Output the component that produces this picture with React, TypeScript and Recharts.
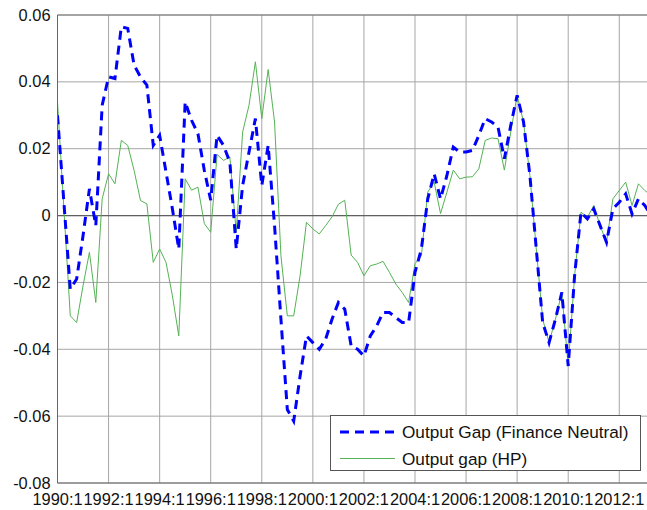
import React from 'react';
import { LineChart, Line, XAxis, YAxis, CartesianGrid, ReferenceLine } from 'recharts';

const tickLabels = ['1990:1', '1992:1', '1994:1', '1996:1', '1998:1', '2000:1', '2002:1', '2004:1', '2006:1', '2008:1', '2010:1', '2012:1'];
const xTicks = [0, 8, 16, 24, 32, 40, 48, 56, 64, 72, 80, 88];
const yTicks = [-0.08, -0.06, -0.04, -0.02, 0, 0.02, 0.04, 0.06];

// Output Gap (Finance Neutral), quarterly from 1990:1
const financeNeutral = [
  0.030, 0.004, -0.022, -0.019, -0.006, 0.008, -0.003, 0.033, 0.0415, 0.041,
  0.0565, 0.056, 0.045, 0.0415, 0.039, 0.021, 0.024, 0.013, 0.002, -0.010,
  0.034, 0.0285, 0.0245, 0.0135, 0.0046, 0.024, 0.021, 0.016, -0.010, 0.009,
  0.019, 0.029, 0.009, 0.021, -0.003, -0.031, -0.058, -0.0615, -0.048, -0.036,
  -0.038, -0.040, -0.037, -0.031, -0.026, -0.028, -0.039, -0.040, -0.042, -0.036,
  -0.033, -0.029, -0.029, -0.0305, -0.032, -0.032, -0.017, -0.010, 0.005, 0.0125,
  0.005, 0.012, 0.0205, 0.019, 0.019, 0.0195, 0.024, 0.029, 0.028, 0.0265,
  0.017, 0.027, 0.036, 0.028, 0.012, -0.010, -0.032, -0.038, -0.031, -0.023,
  -0.045, -0.018, 0.001, -0.001, 0.002, -0.003, -0.008, 0.002, 0.004, 0.0065,
  0.0005, 0.005, 0.003, 0.000,
];

// Output gap (HP)
const hpGap = [
  0.034, 0.002, -0.030, -0.032, -0.021, -0.011, -0.026, 0.005, 0.0125, 0.0095,
  0.0225, 0.021, 0.0135, 0.0045, 0.0035, -0.014, -0.010, -0.014, -0.024, -0.036,
  0.011, 0.0076, 0.0085, -0.0024, -0.005, 0.0183, 0.0165, 0.0175, -0.005, 0.025,
  0.033, 0.046, 0.029, 0.0437, 0.028, -0.012, -0.030, -0.030, -0.018, -0.002,
  -0.004, -0.0055, -0.003, -0.0004, 0.0034, 0.0046, -0.0118, -0.014, -0.018, -0.015,
  -0.0145, -0.0137, -0.017, -0.0205, -0.023, -0.026, -0.0144, -0.012, 0.007, 0.010,
  0.0006, 0.007, 0.0136, 0.011, 0.0115, 0.0116, 0.014, 0.0225, 0.0232, 0.023,
  0.0136, 0.025, 0.036, 0.028, 0.012, -0.010, -0.031, -0.038, -0.031, -0.023,
  -0.045, -0.018, 0.001, -0.0005, 0.003, -0.003, -0.008, 0.005, 0.0075, 0.010,
  0.003, 0.0095, 0.0075, 0.006,
];

const seriesNames = ['Output Gap (Finance Neutral)', 'Output gap (HP)'];

const data = financeNeutral.map((v, i) => ({ t: i, fn: v, hp: hpGap[i] }));

const FONT = '"Liberation Sans", Arial, sans-serif';
const BLUE = '#0000ff';
const GREEN = '#55b255';

const fmtY = (v: number) => (Math.abs(v) < 1e-9 ? '0' : v.toFixed(2));

const XTick = (props: any) => {
  const { x, y, payload } = props;
  const idx = xTicks.indexOf(payload.value);
  return (
    <text x={x} y={y} dy={21.5} textAnchor="middle" fontFamily={FONT} fontSize={16.4} fill="#111">
      {idx >= 0 ? tickLabels[idx] : ''}
    </text>
  );
};

const YTick = (props: any) => {
  const { x, y, payload } = props;
  return (
    <text x={x} y={y} dy={5.5} textAnchor="end" fontFamily={FONT} fontSize={16.4} fill="#111">
      {fmtY(payload.value)}
    </text>
  );
};

export default function App() {
  return (
    <div style={{ position: 'absolute', left: 0, top: 0, width: 647, height: 510, overflow: 'hidden', background: '#fff' }}>
      <LineChart width={660} height={510} data={data} margin={{ top: 15, right: 8.8, left: 0, bottom: 0 }}>
        <CartesianGrid stroke="#a6a6a6" strokeWidth={1} />
        <XAxis
          dataKey="t"
          type="number"
          domain={[0, 93]}
          ticks={xTicks}
          interval={0}
          height={27}
          tickSize={0}
          tickMargin={0}
          tickLine={false}
          axisLine={{ stroke: '#666' }}
          tick={<XTick />}
          allowDataOverflow
        />
        <YAxis
          type="number"
          domain={[-0.08, 0.06]}
          ticks={yTicks}
          interval={0}
          width={57.5}
          tickSize={0}
          tickMargin={7}
          tickLine={false}
          axisLine={{ stroke: '#666' }}
          tick={<YTick />}
          allowDataOverflow
        />
        <ReferenceLine y={0} stroke="#606060" strokeWidth={1.2} />
        <ReferenceLine y={0.06} stroke="#777" strokeWidth={1} />
        <Line
          type="linear"
          dataKey="hp"
          stroke={GREEN}
          strokeWidth={1}
          dot={false}
          isAnimationActive={false}
        />
        <Line
          type="linear"
          dataKey="fn"
          stroke={BLUE}
          strokeWidth={3}
          strokeDasharray="9 6"
          dot={false}
          isAnimationActive={false}
        />
      </LineChart>
      <div
        style={{
          position: 'absolute',
          left: 330,
          top: 415,
          width: 311,
          height: 56,
          border: '1px solid #555',
          background: '#fff',
          boxSizing: 'border-box',
        }}
      >
        <svg width={311} height={56} style={{ position: 'absolute', left: -1, top: -1 }}>
          <line x1={10} y1={17} x2={65} y2={17} stroke={BLUE} strokeWidth={3} strokeDasharray="9 6" />
          <line x1={10} y1={43.5} x2={65} y2={43.5} stroke={GREEN} strokeWidth={1} />
          <text x={72} y={23} fontFamily={FONT} fontSize={17.2} fill="#111">{seriesNames[0]}</text>
          <text x={72} y={49.5} fontFamily={FONT} fontSize={17.2} fill="#111">{seriesNames[1]}</text>
        </svg>
      </div>
    </div>
  );
}
